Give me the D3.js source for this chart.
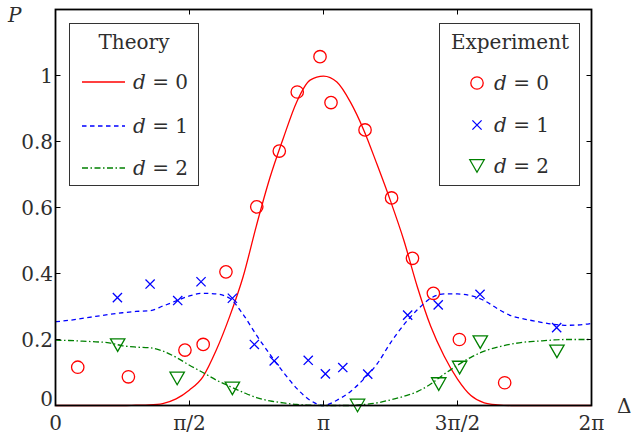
<!DOCTYPE html>
<html>
<head>
<meta charset="utf-8">
<script src="https://cdn.jsdelivr.net/npm/d3@7"></script>
<style>
  html, body { margin: 0; padding: 0; background: #fff; }
  svg { display: block; }
  text { font-family: "DejaVu Serif", "Liberation Serif", serif; fill: #2e2e2e; }
</style>
</head>
<body>
<svg id="chart" width="637" height="434"></svg>
<script>
// ---------- DATA (x in units of pi) ----------
const theoryX = [0,0.05,0.1,0.15,0.2,0.25,0.3,0.35,0.4,0.45,0.5,0.55,0.6,0.65,0.7,0.75,0.8,0.85,0.9,0.95,1.0,
                 1.05,1.1,1.15,1.2,1.25,1.3,1.35,1.4,1.45,1.5,1.55,1.6,1.65,1.7,1.75,1.8,1.85,1.9,1.95,2.0];
const theoryD0 = [0,0,0,0,0,0,0.001,0.002,0.006,0.02,0.047,0.087,0.168,0.27,0.39,0.546,0.69,0.81,0.92,0.986,0.998,
                  0.98,0.92,0.835,0.73,0.62,0.50,0.36,0.24,0.15,0.08,0.03,0.008,0.002,0,0,0,0,0,0,0];
const theoryD1 = [0.254,0.258,0.264,0.27,0.276,0.281,0.285,0.287,0.301,0.317,0.332,0.34,0.338,0.325,0.276,0.213,0.155,0.101,0.052,0.016,0.0,
                  0.016,0.042,0.08,0.126,0.19,0.245,0.29,0.325,0.338,0.338,0.333,0.318,0.293,0.272,0.262,0.254,0.247,0.243,0.244,0.249];
const theoryD2 = [0.198,0.197,0.195,0.193,0.19,0.181,0.177,0.175,0.165,0.146,0.122,0.1,0.077,0.058,0.04,0.024,0.014,0.008,0.003,0.001,0,
                  0,0,0.003,0.008,0.017,0.028,0.042,0.065,0.095,0.122,0.146,0.165,0.177,0.186,0.192,0.195,0.198,0.2,0.2,0.2];

const expD0X = [0.083,0.272,0.483,0.551,0.636,0.751,0.835,0.902,0.987,1.028,1.155,1.254,1.332,1.41,1.507,1.676];
const expD0Y = [0.116,0.087,0.168,0.185,0.405,0.602,0.771,0.95,1.057,0.918,0.835,0.629,0.446,0.34,0.2,0.069];
const expD1X = [0.231,0.353,0.456,0.543,0.66,0.742,0.816,0.943,1.007,1.072,1.165,1.314,1.428,1.584,1.87];
const expD1Y = [0.327,0.368,0.318,0.375,0.325,0.185,0.135,0.137,0.096,0.115,0.095,0.274,0.305,0.337,0.236];
const expD2X = [0.232,0.454,0.66,1.127,1.43,1.508,1.585,1.871];
const expD2Y = [0.183,0.082,0.052,0.0,0.065,0.115,0.192,0.164];

const xTickValues = [0,0.5,1,1.5,2];
const xTickLabels = ["0","\u03c0/2","\u03c0","3\u03c0/2","2\u03c0"];
const yTickValues = [0,0.2,0.4,0.6,0.8,1];
const yTickLabels = ["0","0.2","0.4","0.6","0.8","1"];
const seriesNames = ["d = 0","d = 1","d = 2"];
const seriesColors = ["#ff0000","#0000ff","#008000"];

// ---------- LAYOUT ----------
const svg = d3.select("#chart");
const L = 55.5, R = 591.5, T = 9.5, B = 405.5;
const x = d3.scaleLinear().domain([0,2]).range([L,R]);
const y = d3.scaleLinear().domain([0,1.2]).range([B,T]);
const fs = 20;

// theory curves
const line = d3.line().x(d => x(d[0])).y(d => y(d[1])).curve(d3.curveMonotoneX);
const theory = [theoryD0, theoryD1, theoryD2].map(v => theoryX.map((t,i) => [t, v[i]]));
const dashes = [null, "4.5,3.5", "6,2.5,1.5,2.5"];
theory.forEach((pts,k) => {
  svg.append("path").attr("d", line(pts)).attr("fill","none")
     .attr("stroke", seriesColors[k]).attr("stroke-width", 1.3)
     .attr("stroke-dasharray", dashes[k]);
});

// markers
function circleMarker(g, cx, cy, c) {
  g.append("circle").attr("cx",cx).attr("cy",cy).attr("r",6.2)
   .attr("fill","none").attr("stroke",c).attr("stroke-width",1.3);
}
function crossMarker(g, cx, cy, c) {
  const s = 4.6;
  g.append("path").attr("d",`M${cx-s},${cy-s}L${cx+s},${cy+s}M${cx-s},${cy+s}L${cx+s},${cy-s}`)
   .attr("stroke",c).attr("stroke-width",1.3).attr("fill","none");
}
function triMarker(g, cx, cy, c) {
  const w = 7.2, h = 6.3;
  g.append("path").attr("d",`M${cx-w},${cy-h}L${cx+w},${cy-h}L${cx},${cy+h}Z`)
   .attr("stroke",c).attr("stroke-width",1.3).attr("fill","none");
}
const markerFns = [circleMarker, crossMarker, triMarker];
const exp = [[expD0X,expD0Y],[expD1X,expD1Y],[expD2X,expD2Y]];
const mg = svg.append("g");
exp.forEach(([xs,ys],k) => xs.forEach((t,i) => markerFns[k](mg, x(t), y(ys[i]), seriesColors[k])));

// axes frame
const ax = svg.append("g");
ax.append("rect").attr("x",L).attr("y",T).attr("width",R-L).attr("height",B-T)
  .attr("fill","none").attr("stroke","#000").attr("stroke-width",1.8);
const tk = 5;
xTickValues.forEach((t,i) => {
  ax.append("line").attr("x1",x(t)).attr("x2",x(t)).attr("y1",B).attr("y2",B-tk).attr("stroke","#000").attr("stroke-width",1);
  ax.append("line").attr("x1",x(t)).attr("x2",x(t)).attr("y1",T).attr("y2",T+tk).attr("stroke","#000").attr("stroke-width",1);
  ax.append("text").attr("x",x(t)).attr("y",429.5).attr("text-anchor","middle")
    .attr("font-size",fs).text(xTickLabels[i]);
});
yTickValues.forEach((v,i) => {
  ax.append("line").attr("x1",L).attr("x2",L+tk).attr("y1",y(v)).attr("y2",y(v)).attr("stroke","#000").attr("stroke-width",1);
  ax.append("line").attr("x1",R).attr("x2",R-tk).attr("y1",y(v)).attr("y2",y(v)).attr("stroke","#000").attr("stroke-width",1);
  ax.append("text").attr("x",L-2.5).attr("y", v === 0 ? y(v) + 0.5 : y(v) + 7.3).attr("text-anchor","end")
    .attr("font-size",fs).text(yTickLabels[i]);
});
svg.append("text").attr("x",8).attr("y",22).attr("font-size",fs).attr("font-style","italic").text("P");
svg.append("text").attr("x",617).attr("y",413).attr("font-size",fs).text("\u0394");

// legend text helper: italic d
function legendLabel(g, tx, ty, k) {
  const t = g.append("text").attr("x",tx).attr("y",ty).attr("font-size",fs);
  t.append("tspan").attr("font-style","italic").text("d");
  t.append("tspan").text(seriesNames[k].slice(1));
}

// Theory legend
const lg1 = svg.append("g");
lg1.append("rect").attr("x",69.5).attr("y",23.5).attr("width",129).attr("height",162)
   .attr("fill","#fff").attr("stroke","#333").attr("stroke-width",1);
lg1.append("text").attr("x",134).attr("y",49).attr("text-anchor","middle").attr("font-size",fs).text("Theory");
[82,126,168].forEach((ly,k) => {
  lg1.append("line").attr("x1",82).attr("x2",125).attr("y1",ly).attr("y2",ly)
     .attr("stroke",seriesColors[k]).attr("stroke-width",1.3).attr("stroke-dasharray",dashes[k]);
  legendLabel(lg1, 133, ly+7.3, k);
});

// Experiment legend
const lg2 = svg.append("g");
lg2.append("rect").attr("x",439.5).attr("y",23.5).attr("width",140).attr("height",162)
   .attr("fill","#fff").attr("stroke","#333").attr("stroke-width",1);
lg2.append("text").attr("x",510).attr("y",49).attr("text-anchor","middle").attr("font-size",fs).text("Experiment");
[83,125,166].forEach((ly,k) => {
  markerFns[k](lg2, 477, ly, seriesColors[k]);
  legendLabel(lg2, 494, ly+7.3, k);
});
</script>
</body>
</html>
